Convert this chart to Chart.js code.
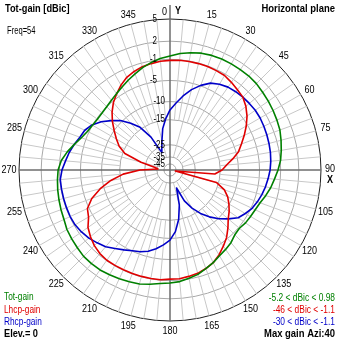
<!DOCTYPE html>
<html lang="en">
<head>
<meta charset="utf-8">
<title>Tot-gain [dBic] - Horizontal plane</title>
<script src="https://cdn.jsdelivr.net/npm/chart.js@4.4.0/dist/chart.umd.min.js"></script>
<style>
  html, body { margin: 0; padding: 0; background: #fff; }
  canvas { display: block; }
</style>
</head>
<body>
<canvas id="polar" width="339" height="339"></canvas>
<script>
// azimuth in degrees, one point every 5 deg
var azimuth = [0,5,10,15,20,25,30,35,40,45,50,55,60,65,70,75,80,85,
               90,95,100,105,110,115,120,125,130,135,140,145,150,155,160,165,170,175,
               180,185,190,195,200,205,210,215,220,225,230,235,240,245,250,255,260,265,
               270,275,280,285,290,295,300,305,310,315,320,325,330,335,340,345,350,355];

// gains in dBic
var totGain = [-0.45,0.04,0.38,0.7,0.87,0.95,0.97,0.96,0.98,0.9,0.7,0.54,0.38,0.21,0.04,-0.29,-0.62,-0.95,
               -1.5,-2.1,-2.6,-3.2,-3.8,-4.15,-4.35,-4.5,-4.8,-4.6,-4.0,-3.6,-3.2,-2.6,-2.1,-1.5,-1.13,-0.78,
               -0.62,-0.45,-0.12,0.21,0.38,0.54,0.7,0.87,0.9,0.9,0.7,0.54,0.38,0.04,-0.12,-0.29,-0.45,-0.62,
               -0.8,-1.3,-2.2,-3.2,-4.1,-4.7,-5.0,-5.2,-5.2,-5.0,-4.7,-4.3,-3.8,-3.2,-2.6,-1.9,-1.3,-0.8];

var lhcpGain = [-1.2,-1.1,-1.1,-1.1,-1.1,-1.2,-1.3,-1.7,-2.1,-2.45,-3.2,-4.15,-5.35,-6.8,-8.2,-9.4,-11.3,-13.2,
                -14.5,-17.1,-46,-15.9,-12.9,-11.3,-10.1,-9.1,-8.2,-6.8,-5.35,-4.35,-3.4,-2.6,-2.1,-1.7,-1.5,-1.3,
                -1.3,-1.1,-1.1,-1.1,-1.1,-1.1,-1.1,-1.1,-1.3,-1.7,-2.3,-3.0,-4.15,-4.7,-6.5,-9.1,-12.3,-16.3,
                -23.1,-36.5,-33.4,-23.1,-15.9,-13.4,-11.8,-10.1,-8.4,-6.8,-5.35,-4.35,-3.4,-2.6,-2.1,-1.7,-1.5,-1.3];

var rhcpGain = [-12.3,-10.4,-8.4,-6.5,-4.9,-3.8,-3.2,-2.8,-2.6,-2.45,-2.35,-2.25,-2.25,-2.35,-2.45,-2.55,-2.65,-2.8,
                -3.0,-3.3,-3.6,-3.95,-4.35,-4.8,-5.6,-6.5,-8.2,-9.85,-12.0,-14.25,-17.5,-21.5,-30,-20.7,-15.1,-11.8,
                -9.6,-8.4,-7.25,-6.3,-5.6,-5.1,-4.5,-3.8,-3.0,-2.45,-1.9,-1.5,-1.2,-1.1,-1.1,-1.1,-1.1,-1.1,
                -1.5,-2.1,-2.6,-3.2,-3.8,-4.15,-4.9,-6.3,-8.0,-9.6,-12.0,-14.5,-19.9,-30,-26,-22.7,-18.3,-14.8];

// ring labels (dBic) and where each ring sits, as a fraction of the outer radius
var ringDb  = [5, 2, -1, -5, -10, -15, -25, -35, -45];
var ringPos = [1, 0.853, 0.733, 0.593, 0.453, 0.333, 0.167, 0.087, 0.04];

var green = 'rgb(0,128,0)', red = 'rgb(224,0,0)', blue = 'rgb(0,0,200)';
var sans = "'Liberation Sans', Arial, sans-serif";

// dBic -> radial position (log-like scale of the rings)
function toR(db) {
  if (db >= ringDb[0]) return 1;
  for (var i = 1; i < ringDb.length; i++) {
    if (db >= ringDb[i]) {
      var t = (db - ringDb[i]) / (ringDb[i - 1] - ringDb[i]);
      return ringPos[i] + t * (ringPos[i - 1] - ringPos[i]);
    }
  }
  return Math.max(0, ringPos[ringPos.length - 1] * (db + 55) / 10);
}

// narrow text: the original uses an Arial Narrow look
function text(c, str, x, y, font, color, align, sx) {
  c.save();
  c.font = font + ' ' + sans;
  c.fillStyle = color;
  c.textAlign = align || 'left';
  c.textBaseline = 'middle';
  c.translate(x, y);
  c.scale(sx || 0.82, 1);
  c.fillText(str, 0, 0);
  c.restore();
}

var polarDecor = {
  id: 'polarDecor',
  beforeDatasetsDraw: function(chart) {
    var s = chart.scales.r, c = chart.ctx, R = s.drawingArea;
    c.save();
    // spokes every 5 deg
    c.strokeStyle = '#c8c8c8';
    c.lineWidth = 1;
    for (var i = 0; i < azimuth.length; i++) {
      if (azimuth[i] % 90 === 0) continue;
      var inner = s.getDistanceFromCenterForValue(toR(azimuth[i] % 15 === 0 ? -35 : -15));
      var a = s.getPointPosition(i, inner), b = s.getPointPosition(i, R);
      c.beginPath(); c.moveTo(a.x, a.y); c.lineTo(b.x, b.y); c.stroke();
    }
    // X / Y axes
    c.strokeStyle = '#6e6e6e';
    c.lineWidth = 1.5;
    var top = s.getPointPosition(0, R + 14), bot = s.getPointPosition(36, R);
    var rgt = s.getPointPosition(18, R), lft = s.getPointPosition(54, R);
    c.beginPath();
    c.moveTo(s.xCenter, top.y); c.lineTo(s.xCenter, bot.y);
    c.moveTo(lft.x, s.yCenter); c.lineTo(rgt.x, s.yCenter);
    c.stroke();
    c.restore();
  },
  afterDraw: function(chart) {
    var s = chart.scales.r, c = chart.ctx, R = s.drawingArea;
    // ring labels up the vertical axis
    for (var k = 0; k < ringDb.length; k++) {
      var d = s.getDistanceFromCenterForValue(ringPos[k]);
      var xr = ringDb[k] >= -5 ? s.xCenter - 13 : s.xCenter - 5;
      text(c, String(ringDb[k]), xr, s.yCenter - d, '10px', '#000', 'right', 0.8);
    }
    // azimuth labels every 15 deg
    for (var i = 0; i < azimuth.length; i++) {
      var az = azimuth[i];
      if (az % 15 !== 0) continue;
      var p = s.getPointPosition(i, R + 10);
      if (az === 0) {
        text(c, '0', s.xCenter - 3, 12, '11px', '#000', 'right');
        text(c, 'Y', s.xCenter + 5, 11, 'bold 11px', '#000', 'left');
      } else if (az === 90) {
        text(c, '90', p.x - 1, s.yCenter - 1, '11px', '#000', 'center');
        text(c, 'X', p.x - 1, s.yCenter + 10, 'bold 11px', '#000', 'center');
      } else {
        text(c, String(az), p.x, p.y, '11px', '#000', 'center');
      }
    }
    // corner texts
    text(c, 'Tot-gain [dBic]', 5, 9, 'bold 11px', '#000', 'left', 0.84);
    text(c, 'Freq=54', 7, 31, '10px', '#000', 'left', 0.76);
    text(c, 'Horizontal plane', 335, 9, 'bold 11px', '#000', 'right', 0.86);
    text(c, 'Tot-gain', 4, 297, '10px', green, 'left', 0.83);
    text(c, 'Lhcp-gain', 4, 310, '10px', red, 'left', 0.83);
    text(c, 'Rhcp-gain', 4, 322, '10px', blue, 'left', 0.83);
    text(c, 'Elev.= 0', 4, 334, 'bold 11px', '#000', 'left', 0.84);
    text(c, '-5.2 < dBic < 0.98', 335, 298, '10px', green, 'right', 0.84);
    text(c, '-46 < dBic < -1.1', 335, 310, '10px', red, 'right', 0.84);
    text(c, '-30 < dBic < -1.1', 335, 322, '10px', blue, 'right', 0.84);
    text(c, 'Max gain Azi:40', 335, 334, 'bold 11px', '#000', 'right', 0.86);
  }
};

var ctx = document.getElementById('polar');
var chart = new Chart(ctx, {
  type: 'radar',
  data: {
    labels: azimuth.map(String),
    datasets: [
      { label: 'Tot-gain', data: totGain.map(toR), borderColor: green },
      { label: 'Lhcp-gain', data: lhcpGain.map(toR), borderColor: red },
      { label: 'Rhcp-gain', data: rhcpGain.map(toR), borderColor: blue }
    ]
  },
  options: {
    responsive: false,
    animation: false,
    layout: { padding: { left: 19, top: 19, right: 18, bottom: 18 } },
    plugins: { legend: { display: false }, tooltip: { enabled: false } },
    elements: {
      line: { tension: 0, borderWidth: 1.6, fill: false, borderJoinStyle: 'round' },
      point: { radius: 0, hitRadius: 0 }
    },
    scales: {
      r: {
        min: 0,
        max: 1,
        startAngle: 0,
        afterBuildTicks: function(scale) {
          scale.ticks = [0].concat(ringPos.slice().reverse()).map(function(v) { return { value: v }; });
        },
        ticks: { display: false },
        grid: {
          circular: true,
          lineWidth: 1,
          color: function(c) { return c.index === ringPos.length ? '#202020' : '#a8a8a8'; }
        },
        angleLines: { display: false },
        pointLabels: { display: false }
      }
    }
  },
  plugins: [polarDecor]
});
</script>
</body>
</html>
